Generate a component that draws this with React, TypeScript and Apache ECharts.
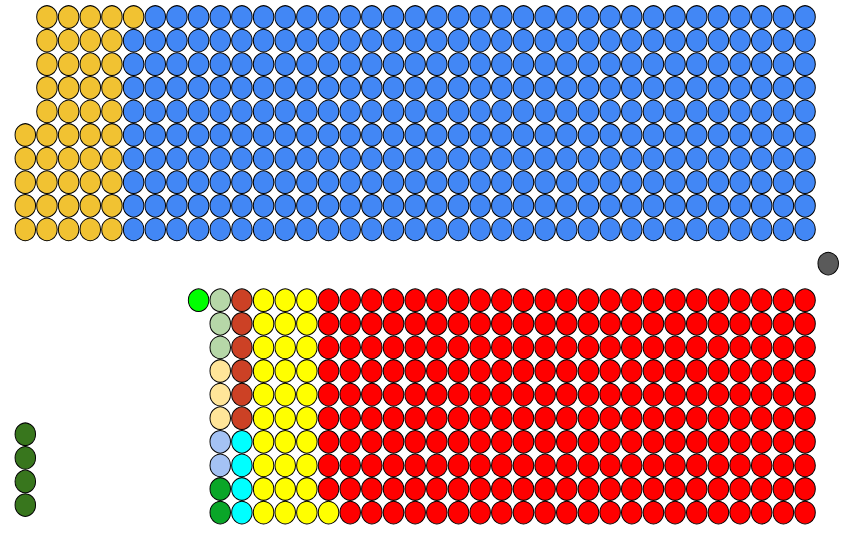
import React, { useEffect, useRef } from "react";
import * as echarts from "echarts";

// Parties, seat counts, colours and bench (top = government side, bottom = opposition side)
const partyNames = [
  "Conservative",
  "Liberal Democrats",
  "Labour",
  "SNP",
  "DUP",
  "Cyan party",
  "Light green party",
  "Peach party",
  "Light blue party",
  "Green party",
  "Bright green party",
];
const partySeats = [319, 46, 229, 31, 6, 4, 3, 3, 2, 2, 1];
const partyColors = [
  "#4287f5",
  "#f1c232",
  "#ff0000",
  "#ffff00",
  "#cc4125",
  "#00ffff",
  "#b6d7a8",
  "#ffe599",
  "#a4c2f4",
  "#0aa628",
  "#00ff00",
];
const partyBench = ["top", "top", "bottom", "bottom", "bottom", "bottom", "bottom", "bottom", "bottom", "bottom", "bottom"];

// Non-sitting members and the Speaker
const absentName = "Sinn Féin";
const absentSeats = 4;
const absentColor = "#38761d";
const speakerName = "Speaker";
const speakerSeats = 1;
const speakerColor = "#5a5a5a";

// Bench geometry (in seat units)
const BENCH_COLS = 37;
const BENCH_ROWS = 10;
const BOTTOM_BENCH_START_ROW = 12;
const SPEAKER_POS = [37.07, 10.45];
const ABSENT_COL = 0;
const ABSENT_START_ROW = 17.68;

function buildSeries() {
  const series: any[] = [];
  // top bench: fill columns right-to-left, each column bottom-to-top
  const topSlots: number[][] = [];
  for (let c = BENCH_COLS - 1; c >= 0; c--) {
    for (let r = BENCH_ROWS - 1; r >= 0; r--) topSlots.push([c, r]);
  }
  // bottom bench: fill columns right-to-left, each column top-to-bottom
  const bottomSlots: number[][] = [];
  for (let c = BENCH_COLS - 1; c >= 0; c--) {
    for (let r = 0; r < BENCH_ROWS; r++) bottomSlots.push([c, BOTTOM_BENCH_START_ROW + r]);
  }
  let ti = 0;
  let bi = 0;
  const symbolSize = [20.5, 22.5];
  const itemBase = { borderColor: "#000", borderWidth: 1, opacity: 1 };
  partyNames.forEach((name, i) => {
    const pts: number[][] = [];
    for (let k = 0; k < partySeats[i]; k++) {
      if (partyBench[i] === "top") pts.push(topSlots[ti++]);
      else pts.push(bottomSlots[bi++]);
    }
    series.push({
      type: "scatter",
      name,
      data: pts,
      symbol: "circle",
      symbolSize,
      clip: false,
      itemStyle: { ...itemBase, color: partyColors[i] },
    });
  });
  const absentPts: number[][] = [];
  for (let k = 0; k < absentSeats; k++) absentPts.push([ABSENT_COL, ABSENT_START_ROW + k]);
  series.push({
    type: "scatter",
    name: absentName,
    data: absentPts,
    symbol: "circle",
    symbolSize,
    clip: false,
    itemStyle: { ...itemBase, color: absentColor },
  });
  const speakerPts: number[][] = [];
  for (let k = 0; k < speakerSeats; k++) speakerPts.push([SPEAKER_POS[0], SPEAKER_POS[1]]);
  series.push({
    type: "scatter",
    name: speakerName,
    data: speakerPts,
    symbol: "circle",
    symbolSize,
    clip: false,
    itemStyle: { ...itemBase, color: speakerColor },
  });
  return series;
}

export default function App() {
  const ref = useRef<HTMLDivElement>(null);
  useEffect(() => {
    if (!ref.current) return;
    const chart = echarts.init(ref.current, null, { renderer: "svg" });
    chart.setOption({
      animation: false,
      backgroundColor: "#ffffff",
      grid: { left: 25.3, right: 18.3, top: 17, bottom: 27.4 },
      xAxis: {
        type: "value",
        min: 0,
        max: 37,
        show: false,
        splitLine: { show: false },
      },
      yAxis: {
        type: "value",
        min: 0,
        max: 21,
        inverse: true,
        show: false,
        splitLine: { show: false },
      },
      series: buildSeries(),
    });
    return () => chart.dispose();
  }, []);
  return (
    <div
      ref={ref}
      style={{ position: "fixed", left: 0, top: 0, width: 845, height: 540, background: "#fff" }}
    />
  );
}
